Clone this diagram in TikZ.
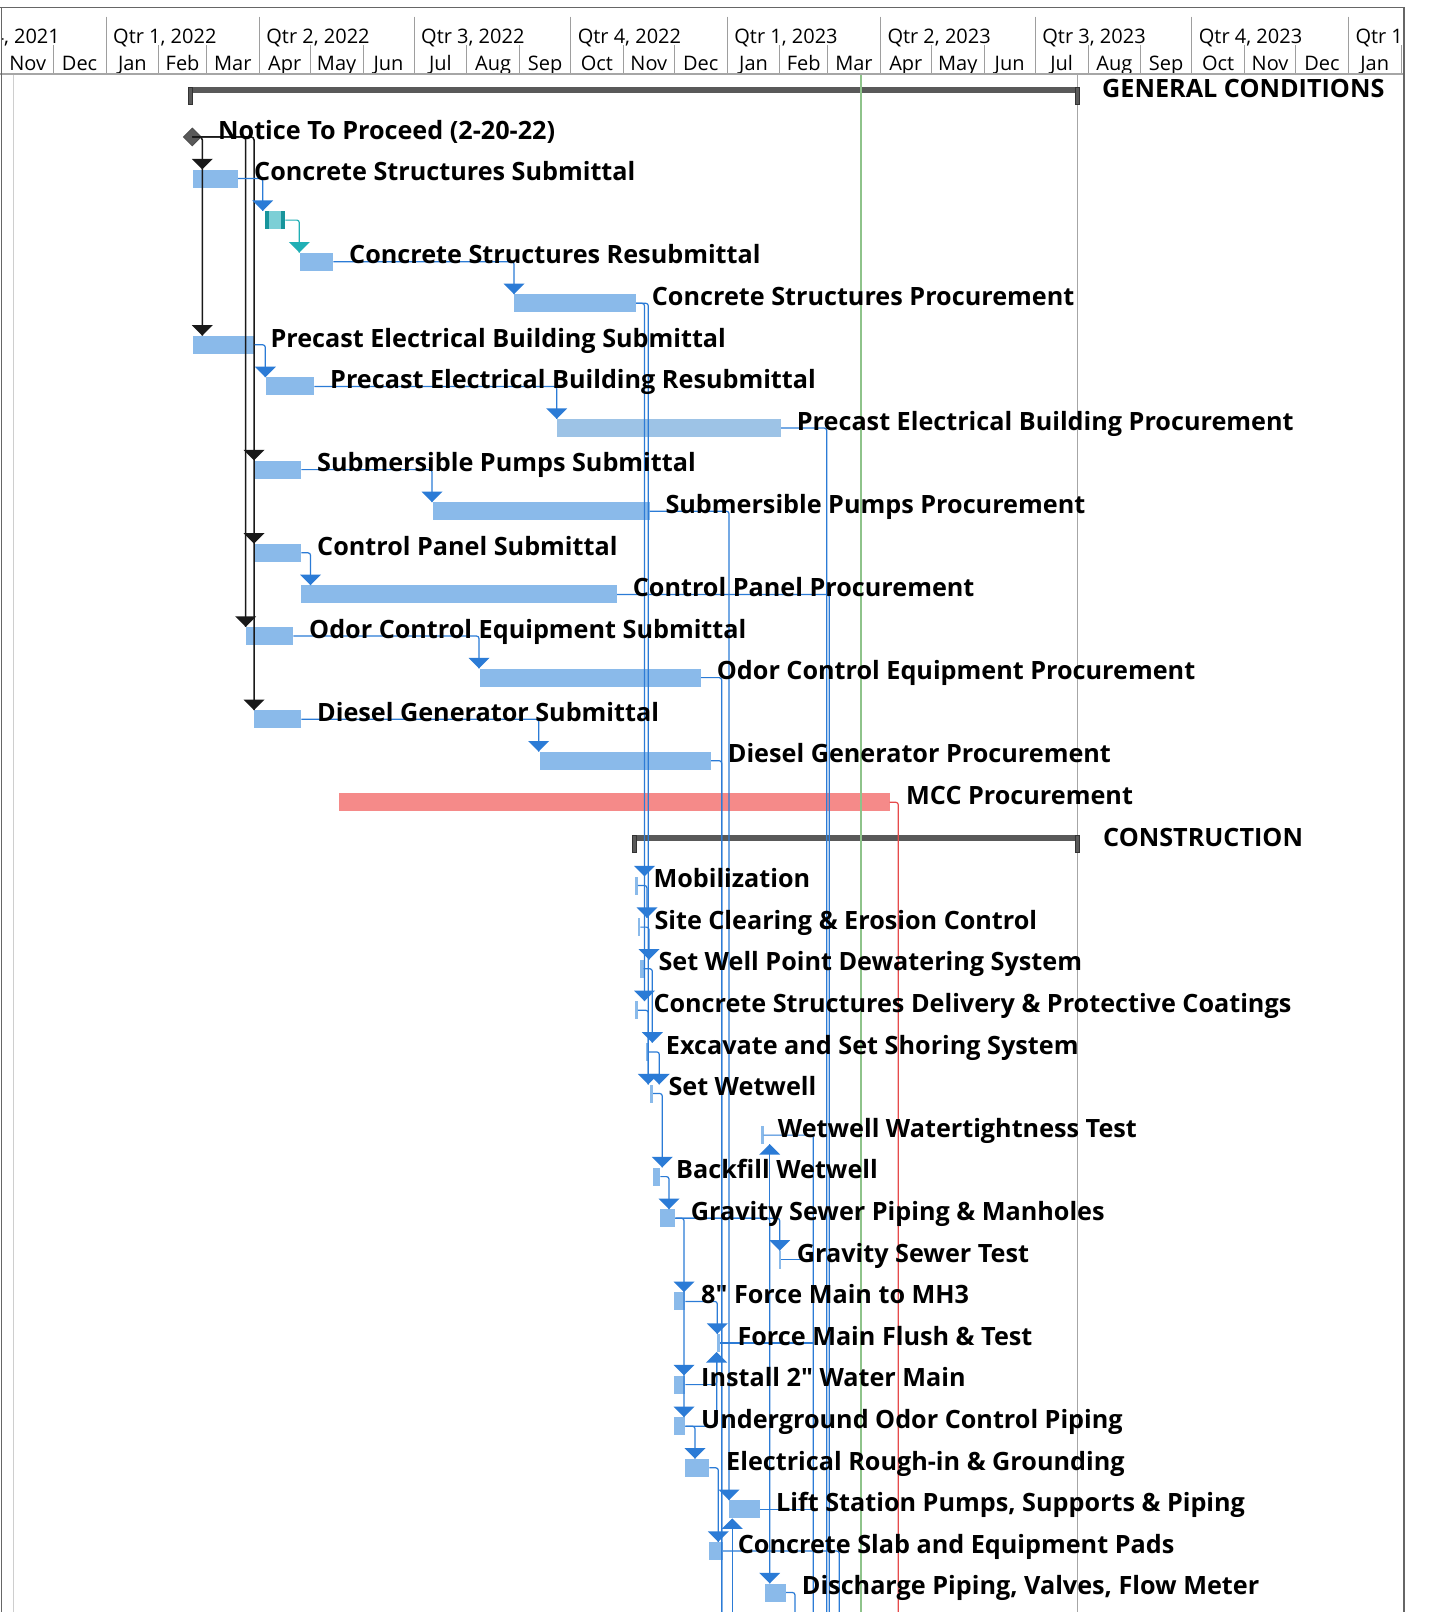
\documentclass[tikz,border=0pt]{standalone}
\usepackage{fontspec}
\setmainfont{Open Sans}
\newfontfamily\nomapfont{Open Sans}[Ligatures=TeXOff]
\usetikzlibrary{arrows.meta,shapes.geometric}
\definecolor{barblue}{HTML}{8ABAEA}
\definecolor{barblue2}{HTML}{9DC3E6}
\definecolor{linkblue}{HTML}{2B7BD6}
\definecolor{teallight}{HTML}{7CCFD6}
\definecolor{tealdark}{HTML}{17959C}
\definecolor{tealarrow}{HTML}{20AFB5}
\definecolor{mccred}{HTML}{F58A89}
\definecolor{linkred}{HTML}{E64B4B}
\definecolor{statusgreen}{HTML}{8EC38A}
\definecolor{sumgray}{HTML}{595959}
\definecolor{gridgray}{HTML}{A6A6A6}
\definecolor{tickgray}{HTML}{9E9E9E}
\definecolor{bordergray}{HTML}{666666}
\newcommand\tbar[5]{\node[bar,#5,minimum width={#3-#2}] (#1) at (#2,#4) {};}
\newcommand\tlab[4]{\node[lab] (#1) at (#2,#3+2.2) {#4};}
\newcommand\dtip[2]{\fill[#2] (#1) -- ++(-10.5,-10.5) -- ++(21,0) -- cycle;}
\newcommand\utip[2]{\fill[#2] (#1) -- ++(-10.5,10.5) -- ++(21,0) -- cycle;}
\newcommand\dq{{\nomapfont\bfseries\symbol{34}}}
\begin{document}
\begin{tikzpicture}[x=1pt,y=-1pt,
  bar/.style={rectangle,fill=barblue,draw=none,minimum height=18pt,inner sep=0pt,anchor=west},
  lab/.style={anchor=base west,inner sep=0pt,font=\fontsize{25.2}{29}\selectfont\bfseries},
  hq/.style={anchor=base west,inner sep=0pt,font=\fontsize{20}{24}\selectfont},
  hm/.style={anchor=base,inner sep=0pt,font=\fontsize{20}{24}\selectfont},
  conn/.style={draw=linkblue,line width=1.2pt,rounded corners=2.5pt},
  blk/.style={draw=black!90,line width=1.5pt,rounded corners=3pt},
  sumbar/.style={rectangle,fill=sumgray,draw=none,minimum height=5.5pt,inner sep=0pt,anchor=west},
  sumcap/.style={rectangle,fill=sumgray,draw=black!80,line width=0.6pt,minimum width=3.5pt,minimum height=17pt,inner sep=0pt,anchor=north}
]
\useasboundingbox (0,0) rectangle (1430,1612);
\fill[white] (0,0) rectangle (1430,1612);

% ---------- grid lines ----------
\draw[gridgray!55,line width=0.8pt] (13.3,73.3) -- (13.3,1612);
\draw[gridgray,line width=1pt] (1077.3,73.3) -- (1077.3,1612);

% ---------- header ----------
\begin{scope}
\clip (2,7.3) rectangle (1404,73.3);
\foreach \x/\t [count=\i] in {-43.6/{Qtr 4, 2021},113/{Qtr 1, 2022},266.2/{Qtr 2, 2022},421/{Qtr 3, 2022},577.6/{Qtr 4, 2022},734.2/{Qtr 1, 2023},887.3/{Qtr 2, 2023},1042.2/{Qtr 3, 2023},1198.7/{Qtr 4, 2023},1355.3/{Qtr 1, 2024}}
  \node[hq] (q\i) at (\x,43.3) {\t};
\foreach \a/\b/\m [count=\i] in {2.2/53.2/Nov,53.2/106/Dec,106/158.8/Jan,158.8/206.4/Feb,206.4/259.2/Mar,259.2/310.2/Apr,310.2/363/May,363/414/Jun,414/466.8/Jul,466.8/519.5/Aug,519.5/570.6/Sep,570.6/623.3/Oct,623.3/674.4/Nov,674.4/727.2/Dec,727.2/779.9/Jan,779.9/827.6/Feb,827.6/880.3/Mar,880.3/931.4/Apr,931.4/984.1/May,984.1/1035.2/Jun,1035.2/1088/Jul,1088/1140.7/Aug,1140.7/1191.7/Sep,1191.7/1244.5/Oct,1244.5/1295.6/Nov,1295.6/1348.3/Dec,1348.3/1401.1/Jan}
  \node[hm] (m\i) at ({(\a+\b)/2},70.7) {\m};
\end{scope}
\foreach \x in {106,259.2,414,570.6,727.2,880.3,1035.2,1191.7,1348.3}
  \draw[tickgray,line width=1pt] (\x,16.7) -- (\x,73.3);
\foreach \x in {53.2,158.8,206.4,310.2,363,466.8,519.5,623.3,674.4,779.9,827.6,931.4,984.1,1088,1140.7,1244.5,1295.6,1401.1}
  \draw[tickgray,line width=1pt] (\x,45) -- (\x,73.3);
\draw[bordergray,line width=1.3pt] (0,7.3) -- (1404,7.3);
\draw[gridgray,line width=2pt] (0,73.6) -- (1404,73.6);
\draw[bordergray,line width=1.3pt] (1.7,7.3) -- (1.7,1612);
\draw[bordergray,line width=1.3pt] (1404,7.3) -- (1404,1612);

% ---------- summary bars ----------
\node[sumbar,minimum width=887.3] (s0) at (190,90) {};
\node[sumcap] (s0a) at (190.5,86.8) {};
\node[sumcap] (s0b) at (1077.3,86.8) {};
\node[sumbar,minimum width=444] (s18) at (633.3,837.9) {};
\node[sumcap] (s18a) at (634.5,835) {};
\node[sumcap] (s18b) at (1077.3,835) {};

% ---------- milestone ----------
\node[diamond,fill=sumgray,draw=black!70,line width=0.8pt,minimum width=18pt,minimum height=18pt,inner sep=0pt] (ms1) at (192.3,136.9) {};

% ---------- task bars ----------
\tbar{b2}{192.3}{237.7}{178.5}{}
\tbar{b3}{265}{285}{220.1}{fill=teallight}
\fill[tealdark] (b3.north west) rectangle ([xshift=4pt]b3.south west);
\fill[tealdark] ([xshift=-4pt]b3.north east) rectangle (b3.south east);
\tbar{b4}{299.3}{333}{261.7}{}
\tbar{b5}{514}{635.7}{303.3}{}
\tbar{b6}{192.3}{254.3}{344.8}{}
\tbar{b7}{265.7}{314}{386.4}{}
\tbar{b8}{556.7}{780.7}{428.0}{fill=barblue2}
\tbar{b9}{254}{301}{469.6}{}
\tbar{b10}{432.8}{649.3}{511.2}{}
\tbar{b11}{254}{301}{552.8}{}
\tbar{b12}{301}{616.7}{594.4}{}
\tbar{b13}{245.7}{293}{636.0}{}
\tbar{b14}{480}{700.7}{677.6}{}
\tbar{b15}{254}{301}{719.2}{}
\tbar{b16}{539.7}{710.7}{760.7}{}
\tbar{b17}{339}{889.3}{802.3}{fill=mccred}
\tbar{b19}{635}{637.5}{885.5}{}
\tbar{b20}{637.3}{640}{927.1}{}
\tbar{b21}{639.3}{643.3}{968.7}{}
\tbar{b22}{635}{637.5}{1010.3}{}
\tbar{b23}{645.7}{648.3}{1051.9}{}
\tbar{b24}{649.3}{652.7}{1093.5}{}
\tbar{b25}{761}{763.3}{1135.1}{}
\tbar{b26}{652.7}{660}{1176.6}{}
\tbar{b27}{659.3}{675}{1218.2}{}
\tbar{b28}{778.3}{780.7}{1259.8}{}
\tbar{b29}{674}{685}{1301.4}{}
\tbar{b30}{716.7}{720}{1343.0}{}
\tbar{b31}{674}{685}{1384.6}{}
\tbar{b32}{674}{685}{1426.2}{}
\tbar{b33}{685}{709}{1467.8}{}
\tbar{b34}{729}{760}{1509.4}{}
\tbar{b35}{708.3}{722.7}{1551.0}{}
\tbar{b36}{765}{785.7}{1592.5}{}

% ---------- free ends ----------
\coordinate (bot) at (0,1612);

% ---------- black links from the milestone ----------
\draw[blk] (ms1.center) -| (b15.north west);
\draw[blk] (ms1.center) -| (b13.north west);
\draw[blk] (ms1.center) -| ([xshift=10pt]b6.north west);
\dtip{b9.north west}{black!90}
\dtip{b11.north west}{black!90}
\dtip{b15.north west}{black!90}
\dtip{b13.north west}{black!90}
\dtip{[xshift=10pt]b2.north west}{black!90}
\dtip{[xshift=10pt]b6.north west}{black!90}

% ---------- blue links, design phase ----------
\draw[conn] (b2.east) -| ([xshift=-2.3pt]b3.north west);
\dtip{[xshift=-2.3pt]b3.north west}{linkblue}
\draw[conn,draw=tealarrow] (b3.east) -| (b4.north west);
\dtip{b4.north west}{tealarrow}
\draw[conn] (b4.east) -| (b5.north west);
\dtip{b5.north west}{linkblue}
\draw[conn] (b5.east) -| ([xshift=9.5pt]b22.north west);
\draw[conn] (b5.east) -| ([xshift=-1pt]b24.north west);
\draw[conn] (b6.east) -| ([xshift=-0.4pt]b7.north west);
\dtip{[xshift=-0.4pt]b7.north west}{linkblue}
\draw[conn] (b7.east) -| (b8.north west);
\dtip{b8.north west}{linkblue}
\draw[conn] (b8.east) -| (826.7,1612);
\draw[conn] (b9.east) -| ([xshift=-0.8pt]b10.north west);
\dtip{[xshift=-0.8pt]b10.north west}{linkblue}
\draw[conn] (b10.east) -| (b34.north west);
\dtip{b34.north west}{linkblue}
\draw[conn] (b11.east) -| ([xshift=9.5pt]b12.north west);
\dtip{[xshift=9.5pt]b12.north west}{linkblue}
\draw[conn] (b12.east) -| (829.3,1612);
\draw[conn] (b13.east) -| ([xshift=-1pt]b14.north west);
\dtip{[xshift=-1pt]b14.north west}{linkblue}
\draw[conn] (b14.east) -| (721.7,1612);
\draw[conn] (b15.east) -| ([xshift=-1pt]b16.north west);
\dtip{[xshift=-1pt]b16.north west}{linkblue}
\draw[conn] (b16.east) -| (721.7,1612);
\draw[linkred,line width=1.2pt,rounded corners=2.5pt] (b17.east) -| (898.3,1612);

% ---------- blue links, construction ----------
\dtip{[xshift=9.5pt]b19.north west}{linkblue}
\dtip{[xshift=9.5pt]b22.north west}{linkblue}
\draw[conn] (b19.east) -| ([xshift=9.7pt]b20.north west);
\dtip{[xshift=9.7pt]b20.north west}{linkblue}
\draw[conn] (b20.east) -| ([xshift=9.7pt]b21.north west);
\dtip{[xshift=9.7pt]b21.north west}{linkblue}
\draw[conn] (b21.east) -| ([xshift=6.6pt]b23.north west);
\dtip{[xshift=6.6pt]b23.north west}{linkblue}
\draw[conn] (b22.east) -| ([xshift=-1pt]b24.north west);
\dtip{[xshift=-1pt]b24.north west}{linkblue}
\draw[conn] (b23.east) -| ([xshift=10pt]b24.north west);
\dtip{[xshift=10pt]b24.north west}{linkblue}
\draw[conn] (b24.east) -| ([xshift=9.6pt]b26.north west);
\dtip{[xshift=9.6pt]b26.north west}{linkblue}
\draw[conn] (b25.east) -| (813.3,1612);
\draw[conn] (b26.east) -| ([xshift=9.7pt]b27.north west);
\dtip{[xshift=9.7pt]b27.north west}{linkblue}
\draw[conn] (b27.east) -| (b28.north);
\dtip{b28.north}{linkblue}
\draw[conn] (b27.east) -| ([xshift=10pt]b32.north west);
\dtip{[xshift=10pt]b29.north west}{linkblue}
\dtip{[xshift=10pt]b31.north west}{linkblue}
\dtip{[xshift=10pt]b32.north west}{linkblue}
\draw[conn] (b27.east) -| ([xshift=4.7pt]b36.north west);
\dtip{[xshift=4.7pt]b36.north west}{linkblue}
\draw[conn] (769.7,1218.2) -- (769.7,1144.1);
\utip{769.7,1144.1}{linkblue}
\draw[conn] (b28.east) -- (813.3,1259.8);
\draw[conn] (b29.east) -| ([xshift=0.6pt]b30.north west);
\dtip{[xshift=0.6pt]b30.north west}{linkblue}
\draw[conn] (b30.east) -- (813.3,1343.0);
\draw[conn] (b31.east) -| (716.7,1362);
\draw[conn] (b32.east) -| (716.7,1362);
\utip{716.7,1352}{linkblue}
\draw[conn] (b32.east) -| ([xshift=10pt]b33.north west);
\dtip{[xshift=10pt]b33.north west}{linkblue}
\draw[conn] (b33.east) -| ([xshift=10pt]b35.north west);
\dtip{[xshift=10pt]b35.north west}{linkblue}
\draw[conn] (b34.east) -- (813.3,1509.4);
\draw[conn] (bot -| 732.3,0) -- (732.3,1529);
\utip{732.3,1518.4}{linkblue}
\draw[conn] (b35.east) -| (839.3,1612);
\draw[conn] (b36.east) -| (795,1612);

% ---------- status line ----------
\draw[statusgreen,line width=2.4pt] (861,74.5) -- (861,1612);

% ---------- labels ----------
\tlab{l0}{1102}{95.3}{GENERAL CONDITIONS}
\tlab{l1}{218}{136.9}{Notice To Proceed (2-20-22)}
\tlab{l2}{254}{178.5}{Concrete Structures Submittal}
\tlab{l4}{349}{261.7}{Concrete Structures Resubmittal}
\tlab{l5}{651.7}{303.3}{Concrete Structures Procurement}
\tlab{l6}{270.3}{344.8}{Precast Electrical Building Submittal}
\tlab{l7}{330}{386.4}{Precast Electrical Building Resubmittal}
\tlab{l8}{796.7}{428.0}{Precast Electrical Building Procurement}
\tlab{l9}{317}{469.6}{Submersible Pumps Submittal}
\tlab{l10}{665.3}{511.2}{Submersible Pumps Procurement}
\tlab{l11}{317}{552.8}{Control Panel Submittal}
\tlab{l12}{632.7}{594.4}{Control Panel Procurement}
\tlab{l13}{309}{636.0}{Odor Control Equipment Submittal}
\tlab{l14}{716.7}{677.6}{Odor Control Equipment Procurement}
\tlab{l15}{317}{719.2}{Diesel Generator Submittal}
\tlab{l16}{727.7}{760.7}{Diesel Generator Procurement}
\tlab{l17}{906}{802.3}{MCC Procurement}
\tlab{l18}{1103}{843.9}{CONSTRUCTION}
\tlab{l19}{653.3}{885.5}{Mobilization}
\tlab{l20}{654.3}{927.1}{Site Clearing \& Erosion Control}
\tlab{l21}{658.3}{968.7}{Set Well Point Dewatering System}
\tlab{l22}{653.3}{1010.3}{Concrete Structures Delivery \& Protective Coatings}
\tlab{l23}{665.7}{1051.9}{Excavate and Set Shoring System}
\tlab{l24}{668.3}{1093.5}{Set Wetwell}
\tlab{l25}{777.7}{1135.1}{Wetwell Watertightness Test}
\tlab{l26}{676}{1176.6}{Backfill Wetwell}
\tlab{l27}{690.7}{1218.2}{Gravity Sewer Piping \& Manholes}
\tlab{l28}{796.7}{1259.8}{Gravity Sewer Test}
\tlab{l29}{701}{1301.4}{8\dq{} Force Main to MH3}
\tlab{l30}{737.3}{1343.0}{Force Main Flush \& Test}
\tlab{l31}{701}{1384.6}{Install 2\dq{} Water Main}
\tlab{l32}{701}{1426.2}{Underground Odor Control Piping}
\tlab{l33}{726}{1467.8}{Electrical Rough-in \& Grounding}
\tlab{l34}{776}{1509.4}{Lift Station Pumps, Supports \& Piping}
\tlab{l35}{737.7}{1551.0}{Concrete Slab and Equipment Pads}
\tlab{l36}{801.7}{1592.5}{Discharge Piping, Valves, Flow Meter}
\end{tikzpicture}
\end{document}
